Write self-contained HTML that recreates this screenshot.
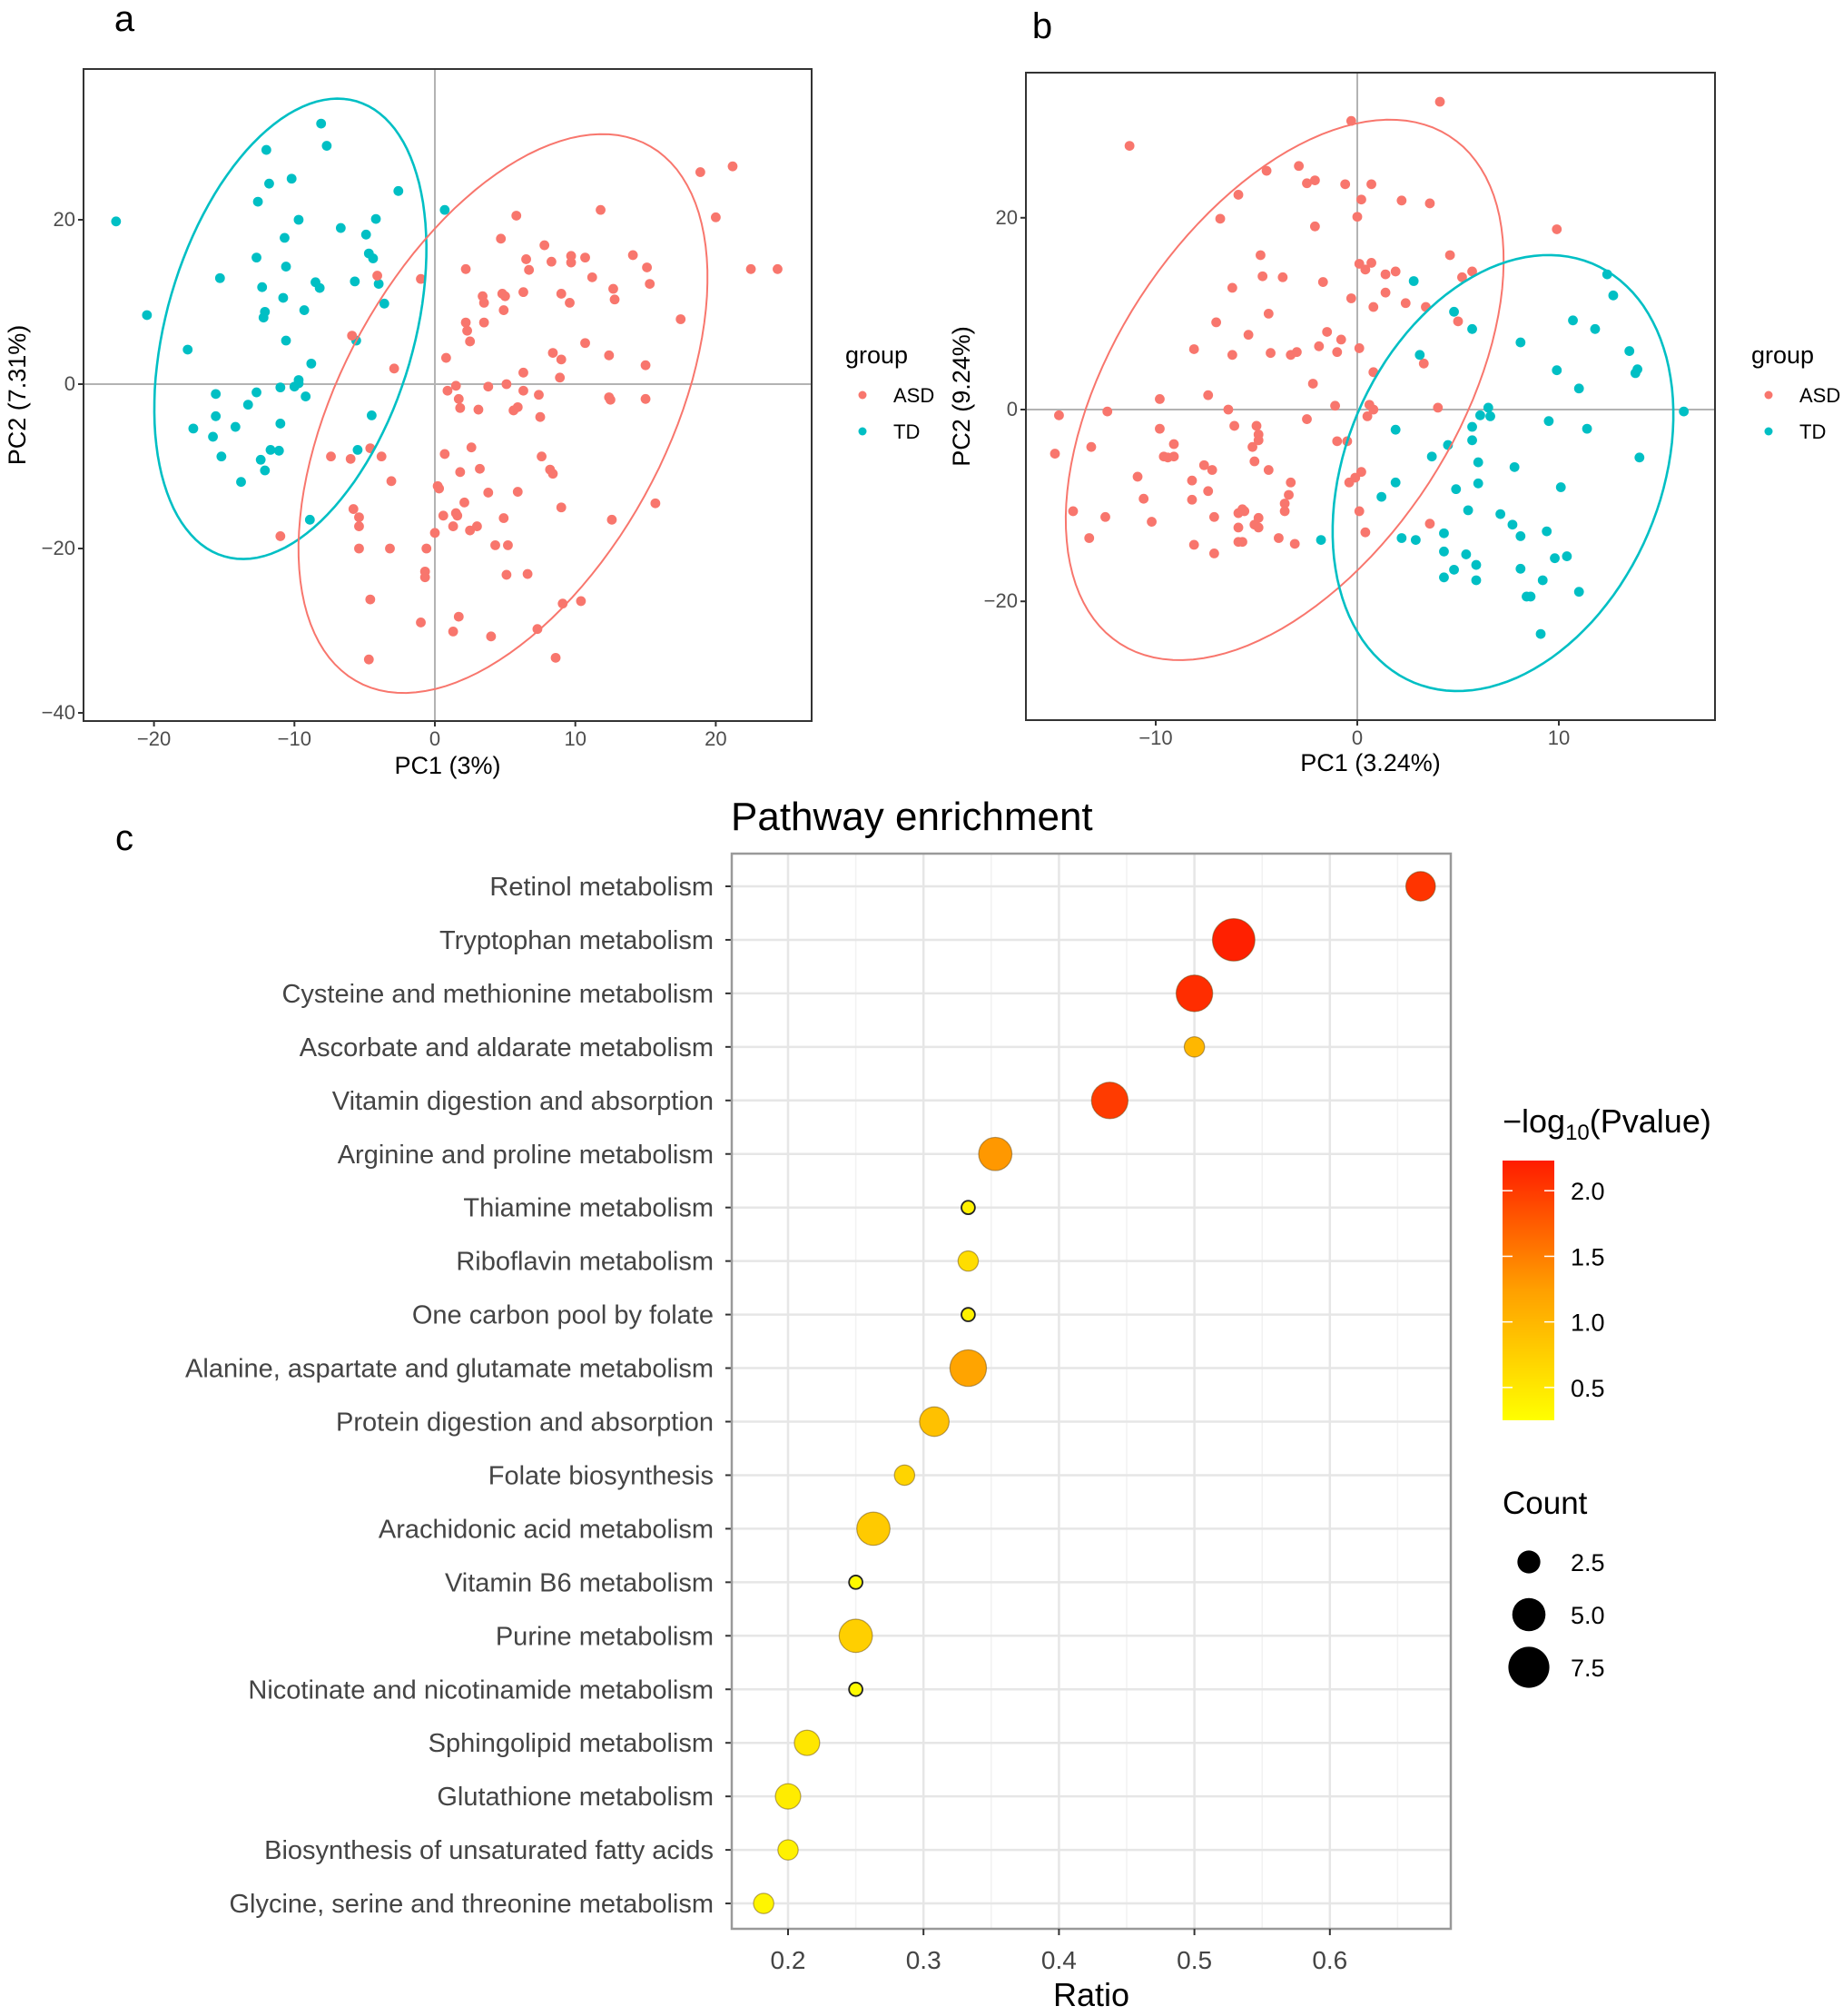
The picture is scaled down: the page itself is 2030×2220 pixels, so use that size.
<!DOCTYPE html>
<html><head><meta charset="utf-8">
<style>
html,body{margin:0;padding:0;background:#fff;}
svg{display:block;font-family:"Liberation Sans",Arial,sans-serif;}
</style></head>
<body>
<svg id="fig" width="2030" height="2220" viewBox="0 0 2030 2220" xmlns="http://www.w3.org/2000/svg">
<rect x="0" y="0" width="2030" height="2220" fill="#fff"/>
<text x="137" y="34" font-size="40" fill="#000" text-anchor="middle">a</text>
<text x="1148" y="42" font-size="40" fill="#000" text-anchor="middle">b</text>
<text x="137" y="936" font-size="40" fill="#000" text-anchor="middle">c</text>
<g id="pa"></g>
<g id="pb"></g>
<g id="pc"></g>
</svg>
<script>
// ---------- Panel a data ----------
const aTDx=[-22.7,-20.5,-17.6,-17.2,-15.8,-15.6,-15.6,-15.2,-15.3,-14.2,-13.8,-13.3,-12.7,-12.7,-12.6,-12.4,-12.3,-12.2,-12.1,-12.1,-12.0,-11.8,-11.7,-11.1,-11.0,-11.0,-10.8,-10.7,-10.6,-10.6,-10.2,-10.0,-9.7,-9.7,-9.7,-9.3,-9.2,-8.9,-8.8,-8.5,-8.2,-8.1,-7.7,-6.7,-5.7,-5.6,-5.5,-4.9,-4.7,-4.5,-4.4,-4.2,-4.0,-3.6,-2.6,0.7];
const aTDy=[19.8,8.4,4.2,-5.4,-6.4,-1.2,-3.9,-8.8,12.9,-5.2,-11.9,-2.5,-1.0,15.4,22.2,-9.2,11.8,8.1,8.8,-10.5,28.5,24.4,-8.0,-8.1,-4.8,-0.4,10.5,17.8,14.3,5.3,25.0,-0.3,20.0,0.5,0.1,9.0,-1.5,-16.5,2.5,12.4,11.7,31.7,29.0,19.0,12.5,5.3,-8.0,18.2,15.9,-3.8,15.3,20.1,12.2,9.8,23.5,21.2];
const aASDx=[-11.0,-7.4,-6.0,-5.9,-5.8,-5.4,-5.4,-5.4,-4.6,-4.7,-4.6,-4.1,-3.8,-3.2,-3.1,-2.9,-1.0,-1.0,-0.7,-0.7,-0.6,0.0,0.2,0.3,0.6,0.7,0.8,0.9,1.3,1.3,1.5,1.5,1.6,1.7,1.7,1.8,1.8,2.1,2.2,2.2,2.3,2.5,2.5,2.6,3.0,3.1,3.2,3.4,3.5,3.5,3.8,3.8,4.0,4.3,4.7,4.8,4.9,4.9,5.0,5.1,5.1,5.2,5.8,5.6,5.9,5.9,6.3,6.3,6.3,6.5,6.6,6.7,7.3,7.4,7.5,7.6,7.8,8.2,8.3,8.4,8.4,8.6,8.9,9.0,9.0,9.0,9.1,9.6,9.7,9.7,10.4,10.7,10.7,11.2,11.8,12.4,12.4,12.5,12.6,12.7,12.8,14.1,15.0,15.0,15.1,15.3,15.7,17.5,18.9,20.0,21.2,22.5,24.4];
const aASDy=[-18.5,-8.8,-9.1,5.9,-15.2,-16.2,-17.3,-20.0,-26.2,-33.5,-7.8,13.2,-8.8,-20.0,-11.8,1.9,12.8,-29.0,-22.8,-23.5,-20.0,-18.1,-12.4,-12.7,-16.0,-8.5,3.2,-0.8,-30.1,-17.3,-0.2,-15.7,-16.0,-1.8,-28.3,-2.9,-10.7,-14.4,14.0,7.5,6.5,-17.8,5.2,-7.7,-17.3,-3.1,-10.3,10.7,7.5,9.9,-0.3,-13.2,-30.7,-19.6,17.7,11.0,-16.3,9.0,10.7,-23.2,0.0,-19.6,20.5,-3.2,-2.8,-13.1,11.2,1.4,-0.8,15.2,-23.1,13.9,-29.8,-1.3,-4.0,-8.8,16.9,-10.4,14.9,-10.9,3.8,-33.3,0.8,-15.0,3.0,11.0,-26.7,9.9,15.6,14.8,-26.4,15.4,5.0,13.0,21.2,3.5,-1.6,-1.9,-16.5,11.6,10.3,15.7,2.3,-1.8,14.2,12.2,-14.5,7.9,25.8,20.3,26.5,14.0,14.0];
const aEllTD=[-10.29,6.73,4.26,27.87,8.70,-2.79];
const aEllASD=[4.85,-3.58,9.40,33.36,11.12,-6.57];
const aXTicks=[-20,-10,0,10,20];
const aYTicks=[-40,-20,0,20];

// ---------- Panel b data ----------
const bASDx=[-14.8,-15.0,-14.1,-13.3,-13.2,-12.5,-12.4,-11.3,-10.9,-10.6,-10.2,-9.8,-9.8,-9.6,-9.4,-9.1,-9.1,-8.2,-8.2,-8.1,-8.1,-7.6,-7.4,-7.4,-7.2,-7.1,-7.1,-7.0,-6.8,-6.4,-6.2,-6.2,-6.1,-5.9,-5.9,-5.9,-5.9,-5.7,-5.7,-5.6,-5.4,-5.2,-5.1,-5.1,-5.0,-4.9,-4.9,-4.9,-4.9,-4.8,-4.7,-4.5,-4.4,-4.4,-4.3,-3.9,-3.7,-3.6,-3.6,-3.4,-3.3,-3.3,-3.1,-3.0,-2.9,-2.5,-2.5,-2.2,-2.1,-2.1,-1.9,-1.7,-1.5,-1.1,-1.0,-1.0,-0.8,-0.6,-0.5,-0.4,-0.3,-0.3,-0.1,0.0,0.1,0.1,0.1,0.2,0.2,0.4,0.4,0.5,0.6,0.7,0.7,0.8,0.8,0.8,1.4,1.4,1.9,2.2,2.4,3.3,3.4,3.6,3.6,4.0,4.1,4.6,5.0,5.2,5.7,9.9];
const bASDy=[-0.6,-4.6,-10.6,-13.4,-3.9,-11.2,-0.2,27.5,-7.0,-9.3,-11.7,1.1,-2.0,-4.9,-5.0,-3.6,-4.9,-7.4,-9.4,6.3,-14.1,-5.8,1.5,-8.5,-6.3,-15.0,-11.2,9.1,19.9,0.0,12.7,5.7,-1.7,-12.3,-13.8,22.4,-10.8,-10.4,-13.8,-10.6,7.8,-3.9,-12.0,-5.4,-1.7,-2.6,-3.2,-12.3,-11.3,16.1,13.9,24.9,10.0,-6.3,5.9,-13.4,13.8,-9.8,-10.6,-8.9,5.7,-7.6,-14.0,6.0,25.4,-1.0,23.6,2.7,23.9,19.1,6.6,13.3,8.1,0.4,-3.3,6.0,7.3,23.5,-3.3,-7.6,11.6,30.1,-7.1,20.1,6.4,-10.6,15.2,-6.5,21.9,14.6,-12.8,-0.7,0.5,23.5,15.3,10.7,3.9,0.0,12.2,14.1,14.4,21.8,11.1,4.8,10.7,-11.9,21.5,0.2,32.1,16.1,9.2,13.8,14.4,18.8];
const bTDx=[-1.8,1.2,1.9,1.9,2.2,2.8,2.9,3.1,3.7,4.3,4.3,4.3,4.5,4.8,4.8,4.9,5.4,5.5,5.7,5.7,5.7,5.9,5.9,6.0,6.0,6.1,6.5,6.6,7.1,7.7,7.8,8.1,8.1,8.1,8.4,8.6,9.1,9.2,9.4,9.5,9.8,9.9,10.1,10.4,10.7,11.0,11.0,11.4,11.8,12.4,12.7,13.5,13.8,13.9,14.0,16.2];
const bTDy=[-13.6,-9.1,-2.1,-7.6,-13.4,13.4,-13.6,5.7,-4.9,-12.9,-14.8,-17.5,-3.7,10.2,-16.7,-8.3,-15.1,-10.5,8.4,-1.8,-3.2,-16.2,-17.8,-5.5,-7.7,-0.6,0.2,-0.7,-10.9,-12.0,-6.0,7.0,-13.2,-16.6,-19.5,-19.5,-23.4,-17.8,-12.7,-1.2,-15.5,4.1,-8.1,-15.3,9.3,-19.0,2.2,-2.0,8.4,14.1,11.9,6.1,3.8,4.2,-5.0,-0.2];
const bEllASD=[-3.60,2.05,7.37,27.34,7.98,-6.83];
const bEllTD=[7.23,-6.62,3.64,22.39,7.63,-3.94];
const bXTicks=[-10,0,10];
const bYTicks=[-20,0,20];

// ---------- Panel c data ----------
const pathways=["Retinol metabolism","Tryptophan metabolism","Cysteine and methionine metabolism","Ascorbate and aldarate metabolism","Vitamin digestion and absorption","Arginine and proline metabolism","Thiamine metabolism","Riboflavin metabolism","One carbon pool by folate","Alanine, aspartate and glutamate metabolism","Protein digestion and absorption","Folate biosynthesis","Arachidonic acid metabolism","Vitamin B6 metabolism","Purine metabolism","Nicotinate and nicotinamide metabolism","Sphingolipid metabolism","Glutathione metabolism","Biosynthesis of unsaturated fatty acids","Glycine, serine and threonine metabolism"];
const ratios=[0.667,0.529,0.5,0.5,0.4375,0.353,0.333,0.333,0.333,0.333,0.308,0.286,0.263,0.25,0.25,0.25,0.214,0.2,0.2,0.182];
const counts=[4,8,6,2,6,5,1,2,1,6,4,2,5,1,5,1,3,3,2,2];
const logp=[2.05,2.2,2.1,1.0,2.0,1.3,0.4,0.6,0.4,1.2,0.9,0.7,0.8,0.3,0.75,0.3,0.5,0.45,0.4,0.35];
const cXTicks=[0.2,0.3,0.4,0.5,0.6];
const cXMinor=[0.25,0.35,0.45,0.55,0.65];
const colorTicks=[2.0,1.5,1.0,0.5];
const sizeLegend=[2.5,5.0,7.5];

const NS="http://www.w3.org/2000/svg";
function mk(tag,attrs,parent){const e=document.createElementNS(NS,tag);for(const k in attrs)e.setAttribute(k,attrs[k]);parent.appendChild(e);return e;}
function txt(s,attrs,parent){const e=mk('text',attrs,parent);e.textContent=s;return e;}

function pcaPanel(g,cfg){
  const {x0,x1,y0,y1,sx,sy,xTicks,yTicks,series,ells,xTitle,yTitle,yTitleX,legX}=cfg;
  const X=v=>cfg.xz+v*sx, Y=v=>cfg.yz-v*sy;
  mk('rect',{x:x0,y:y0,width:x1-x0,height:y1-y0,fill:'#fff'},g);
  const zx=mk('line',{x1:X(0),x2:X(0),y1:y0,y2:y1,stroke:'#b3b3b3','stroke-width':2},g);
  
  
  const zy=mk('line',{x1:x0,x2:x1,y1:Y(0),y2:Y(0),stroke:'#b3b3b3','stroke-width':2},g);
  
  
  series.forEach(s=>{
    s.xs.forEach((v,i)=>{
      const c=mk('circle',{cx:X(v),cy:Y(s.ys[i]),r:5.4,fill:s.color},g);
      
      
    });
  });
  ells.forEach(el=>{
    const e=el.p;let d='';
    for(let k=0;k<=120;k++){const t=k/120*2*Math.PI;
      const vx=e[0]+e[2]*Math.cos(t)+e[4]*Math.sin(t);
      const vy=e[1]+e[3]*Math.cos(t)+e[5]*Math.sin(t);
      d+=(k?'L':'M')+X(vx).toFixed(1)+','+Y(vy).toFixed(1);}
    const p=mk('path',{d:d+'Z',fill:'none',stroke:el.color,'stroke-width':el.w},g);
    
    
  });
  mk('rect',{x:x0,y:y0,width:x1-x0,height:y1-y0,fill:'none',stroke:'#333','stroke-width':2},g);
  xTicks.forEach(v=>{
    mk('line',{x1:X(v),x2:X(v),y1:y1,y2:y1+6,stroke:'#333','stroke-width':2},g);
    const t=txt(v<0?'\u2212'+(-v):String(v),{x:X(v),y:y1+27,'font-size':22,fill:'#4d4d4d','text-anchor':'middle'},g);
    
    
  });
  yTicks.forEach(v=>{
    mk('line',{x1:x0-6,x2:x0,y1:Y(v),y2:Y(v),stroke:'#333','stroke-width':2},g);
    const t=txt(v<0?'\u2212'+(-v):String(v),{x:x0-9,y:Y(v)+7,'font-size':22,fill:'#4d4d4d','text-anchor':'end'},g);
    
    
  });
  const xt=txt(xTitle,{x:(x0+x1)/2,y:cfg.xTitleY,'font-size':27,fill:'#000','text-anchor':'middle'},g);
  
  
  const yt=txt(yTitle,{x:0,y:0,'font-size':27,fill:'#000','text-anchor':'middle',transform:`translate(${yTitleX},${(y0+y1)/2}) rotate(-90)`},g);
  
  
  const lt=txt('group',{x:legX,y:400,'font-size':27,fill:'#000'},g);
  
  
  [['ASD','#F8766D',435],['TD','#00BFC4',475]].forEach(([n,c,yy])=>{
    const d=mk('circle',{cx:legX+19,cy:yy,r:4.5,fill:c},g);
    
    
    const t=txt(n,{x:legX+53,y:yy+8,'font-size':22,fill:'#000'},g);
    
    
  });
}

pcaPanel(document.getElementById('pa'),{x0:92,x1:894,y0:76,y1:794,xz:479,yz:423,sx:15.47,sy:9.05,
  xTicks:aXTicks,yTicks:aYTicks,xTitle:'PC1 (3%)',yTitle:'PC2 (7.31%)',yTitleX:28,xTitleY:852,legX:931,
  series:[{name:'td',xs:aTDx,ys:aTDy,color:'#00BFC4'},{name:'asd',xs:aASDx,ys:aASDy,color:'#F8766D'}],
  ells:[{name:'td',p:aEllTD,color:'#00BFC4',w:2.6},{name:'asd',p:aEllASD,color:'#F8766D',w:2}]});
pcaPanel(document.getElementById('pb'),{x0:1130,x1:1889,y0:80,y1:793,xz:1495,yz:451,sx:22.2,sy:10.56,
  xTicks:bXTicks,yTicks:bYTicks,xTitle:'PC1 (3.24%)',yTitle:'PC2 (9.24%)',yTitleX:1068,xTitleY:849,legX:1929,
  series:[{name:'asd',xs:bASDx,ys:bASDy,color:'#F8766D'},{name:'td',xs:bTDx,ys:bTDy,color:'#00BFC4'}],
  ells:[{name:'asd',p:bEllASD,color:'#F8766D',w:2},{name:'td',p:bEllTD,color:'#00BFC4',w:2.6}]});

// ---------- Panel c ----------
(function(){
  const g=document.getElementById('pc');
  const L=806,R=1598,T=940,B=2124;
  const X=v=>868+(v-0.2)*1492;
  const rowY=i=>976+i*58.95;
  const cmin=0.25,cmax=2.23;
  function lerp(a,b,t){return a+(b-a)*t;}
  function col(v){let t=(v-cmin)/(cmax-cmin);t=Math.max(0,Math.min(1,t));
    let r,gg,b;
    if(t<0.5){const u=t/0.5;r=255;gg=lerp(255,160,u);b=0;}
    else{const u=(t-0.5)/0.5;r=255;gg=lerp(160,28,u);b=0;}
    return `rgb(${r},${Math.round(gg)},${b})`;}
  const rad=c=>Math.sqrt(70*c-15);
  const title=txt('Pathway enrichment',{x:805,y:914,'font-size':44,fill:'#000'},g);
  
  
  mk('rect',{x:L,y:T,width:R-L,height:B-T,fill:'#fff'},g);
  cXMinor.forEach(v=>mk('line',{x1:X(v),x2:X(v),y1:T,y2:B,stroke:'#f2f2f2','stroke-width':1.5},g));
  cXTicks.forEach(v=>mk('line',{x1:X(v),x2:X(v),y1:T,y2:B,stroke:'#e6e6e6','stroke-width':2.5},g));
  pathways.forEach((p,i)=>{
    mk('line',{x1:L,x2:R,y1:rowY(i),y2:rowY(i),stroke:'#e6e6e6','stroke-width':2.5},g);
  });
  pathways.forEach((p,i)=>{
    const c=mk('circle',{cx:X(ratios[i]),cy:rowY(i),r:rad(counts[i]),fill:col(logp[i]),stroke:counts[i]<=1?'#222':'rgba(90,60,0,0.45)','stroke-width':counts[i]<=1?1.8:1.2},g);
    
    
    mk('line',{x1:L-7,x2:L,y1:rowY(i),y2:rowY(i),stroke:'#333','stroke-width':2},g);
    const t=txt(p,{x:786,y:rowY(i)+10,'font-size':29,fill:'#444','text-anchor':'end'},g);
    
    
  });
  mk('rect',{x:L,y:T,width:R-L,height:B-T,fill:'none',stroke:'#999','stroke-width':2.5},g);
  cXTicks.forEach(v=>{
    mk('line',{x1:X(v),x2:X(v),y1:B,y2:B+7,stroke:'#333','stroke-width':2},g);
    const t=txt(v.toFixed(1),{x:X(v),y:2168,'font-size':28,fill:'#444','text-anchor':'middle'},g);
    
    
  });
  const xt=txt('Ratio',{x:(L+R)/2,y:2209,'font-size':36,fill:'#000','text-anchor':'middle'},g);
  
  
  const lt=txt('',{x:1655,y:1247,'font-size':36,fill:'#000'},g);
  
  
  const s1=mk('tspan',{},lt);s1.textContent='\u2212log';
  const s2=mk('tspan',{'font-size':24,dy:8},lt);s2.textContent='10';
  const s3=mk('tspan',{dy:-8},lt);s3.textContent='(Pvalue)';
  const defs=mk('defs',{},g);
  const lg=mk('linearGradient',{id:'cg',x1:0,y1:1,x2:0,y2:0},defs);
  for(let k=0;k<=10;k++){const v=cmin+(cmax-cmin)*k/10;mk('stop',{offset:k/10,'stop-color':col(v)},lg);}
  const cb=mk('rect',{x:1655,y:1278,width:57,height:286,fill:'url(#cg)'},g);
  
  
  const CY=v=>1564-(v-cmin)/(cmax-cmin)*286;
  colorTicks.forEach(v=>{
    mk('line',{x1:1655,x2:1666,y1:CY(v),y2:CY(v),stroke:'#fff','stroke-width':1.5},g);
    mk('line',{x1:1701,x2:1712,y1:CY(v),y2:CY(v),stroke:'#fff','stroke-width':1.5},g);
    const t=txt(v.toFixed(1),{x:1730,y:CY(v)+10,'font-size':27,fill:'#000'},g);
    
    
  });
  const st=txt('Count',{x:1655,y:1667,'font-size':35,fill:'#000'},g);
  
  
  sizeLegend.forEach((v,k)=>{
    const yy=1720+k*58;
    const c=mk('circle',{cx:1684,cy:yy,r:rad(v),fill:'#000'},g);
    
    
    const t=txt(v.toFixed(1),{x:1730,y:yy+10,'font-size':27,fill:'#000'},g);
    
    
  });
})();
</script>
</body></html>
